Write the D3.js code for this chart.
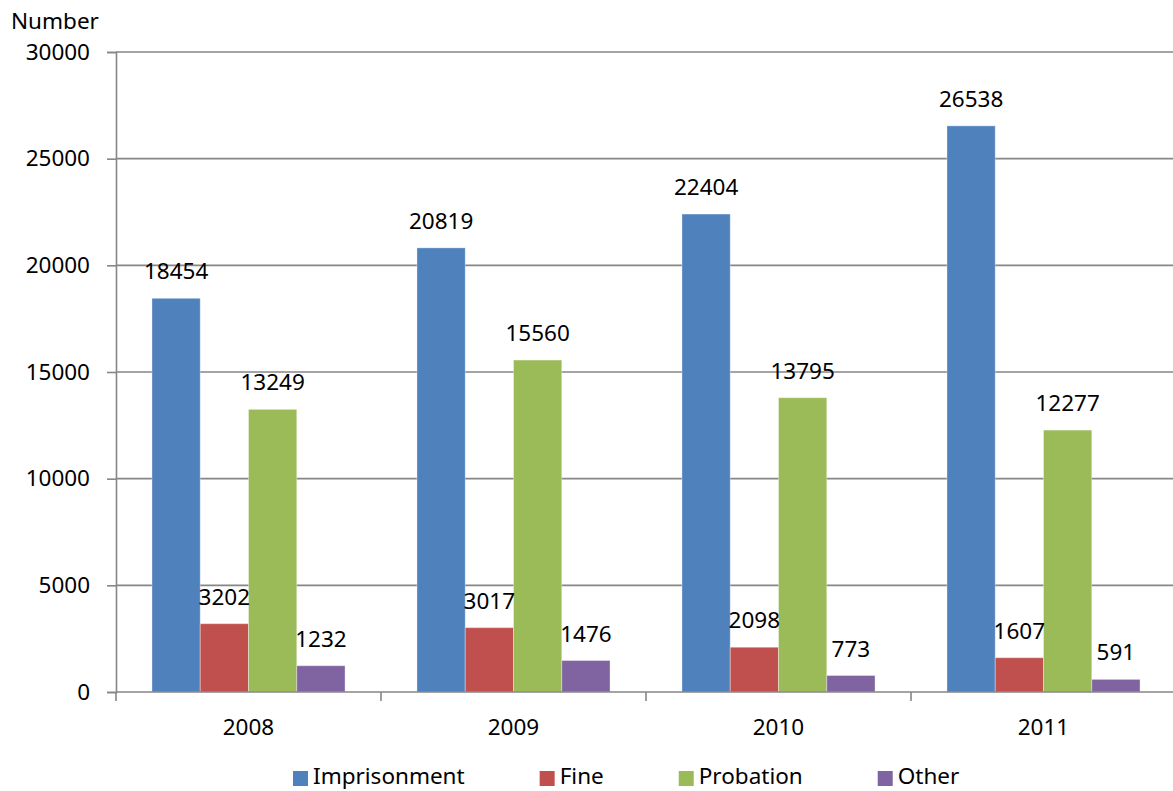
<!DOCTYPE html>
<html>
<head>
<meta charset="utf-8">
<script src="https://cdn.jsdelivr.net/npm/d3@7"></script>
<style>
  html, body { margin: 0; padding: 0; background: #fff; }
  svg { display: block; font-family: "Noto Sans", "Open Sans", sans-serif; }
</style>
</head>
<body>
<svg id="chart" width="1173" height="791"></svg>
<script>
const years = ["2008", "2009", "2010", "2011"];
const seriesNames = ["Imprisonment", "Fine", "Probation", "Other"];
const imprisonment = [18454, 20819, 22404, 26538];
const fine = [3202, 3017, 2098, 1607];
const probation = [13249, 15560, 13795, 12277];
const other = [1232, 1476, 773, 591];
const seriesColors = ["#4F81BD", "#C0504D", "#9BBB59", "#8064A2"];
const yTicks = [0, 5000, 10000, 15000, 20000, 25000, 30000];
const yTitle = "Number";

const seriesValues = [imprisonment, fine, probation, other];
const rows = years.map((yr, i) => ({
  year: yr,
  values: seriesNames.map((s, j) => ({ series: s, value: seriesValues[j][i], color: seriesColors[j] }))
}));

const svg = d3.select("#chart");
const plotLeft = 116, plotRight = 1176, plotTop = 52, plotBottom = 692;
const fontSize = 22.5;
const gridColor = "#868686";

const x = d3.scaleBand().domain(years).range([plotLeft, plotRight]).padding(0);
const xSub = d3.scaleBand().domain(seriesNames).range([0, x.bandwidth()]).paddingInner(0).paddingOuter(0.745);
const y = d3.scaleLinear().domain([0, 30000]).range([plotBottom, plotTop]);

// gridlines
svg.append("g").selectAll("line").data(yTicks.filter(d => d > 0)).join("line")
  .attr("x1", plotLeft).attr("x2", plotRight)
  .attr("y1", d => y(d)).attr("y2", d => y(d))
  .attr("stroke", gridColor).attr("stroke-width", 1.6);

// y axis
const yAxis = d3.axisLeft(y).tickValues(yTicks).tickSize(9).tickPadding(17).tickFormat(d3.format("d"));
const gy = svg.append("g").attr("transform", `translate(${plotLeft},0)`).call(yAxis);
gy.select(".domain").attr("stroke", gridColor).attr("stroke-width", 1.6);
gy.selectAll(".tick line").attr("stroke", gridColor).attr("stroke-width", 1.6);
gy.selectAll(".tick text").attr("font-size", fontSize).attr("fill", "#000")
  .attr("font-family", "'Noto Sans', 'Open Sans', sans-serif");

// bars
const groups = svg.append("g").selectAll("g").data(rows).join("g")
  .attr("transform", d => `translate(${x(d.year)},0)`);

groups.selectAll("rect").data(d => d.values).join("rect")
  .attr("x", d => xSub(d.series))
  .attr("width", xSub.bandwidth())
  .attr("y", d => y(d.value))
  .attr("height", d => y(0) - y(d.value))
  .attr("fill", d => d.color)
  .attr("stroke", "rgba(255,255,255,0.35)")
  .attr("stroke-width", 1);

groups.selectAll("text.val").data(d => d.values).join("text")
  .attr("class", "val")
  .attr("x", d => xSub(d.series) + xSub.bandwidth() / 2)
  .attr("y", d => y(d.value) - 19)
  .attr("text-anchor", "middle")
  .attr("font-size", fontSize)
  .attr("fill", "#000")
  .text(d => d.value);

// x axis
const gx = svg.append("g");
gx.append("line").attr("x1", plotLeft).attr("x2", plotRight).attr("y1", plotBottom).attr("y2", plotBottom)
  .attr("stroke", gridColor).attr("stroke-width", 1.6);
const boundaries = years.map(yr => x(yr)).concat([x(years[years.length - 1]) + x.bandwidth()]);
gx.selectAll("line.tk").data(boundaries).join("line").attr("class", "tk")
  .attr("x1", d => d).attr("x2", d => d).attr("y1", plotBottom).attr("y2", plotBottom + 9)
  .attr("stroke", gridColor).attr("stroke-width", 1.6);
gx.selectAll("text").data(years).join("text")
  .attr("x", d => x(d) + x.bandwidth() / 2)
  .attr("y", 735)
  .attr("text-anchor", "middle")
  .attr("font-size", fontSize)
  .attr("fill", "#000")
  .text(d => d);

// y title
svg.append("text").attr("x", 11).attr("y", 29).attr("font-size", fontSize).attr("fill", "#000").text(yTitle);

// legend
const legend = svg.append("g");
let lx = 293;
const legY = 784;
seriesNames.forEach((s, i) => {
  legend.append("rect").attr("x", lx).attr("y", legY - 13).attr("width", 15).attr("height", 15).attr("fill", seriesColors[i]);
  const t = legend.append("text").attr("x", lx + 20).attr("y", legY).attr("font-size", fontSize).attr("fill", "#000").text(s);
  const w = t.node().getComputedTextLength();
  lx = lx + 20 + w + 75;
});
</script>
</body>
</html>
